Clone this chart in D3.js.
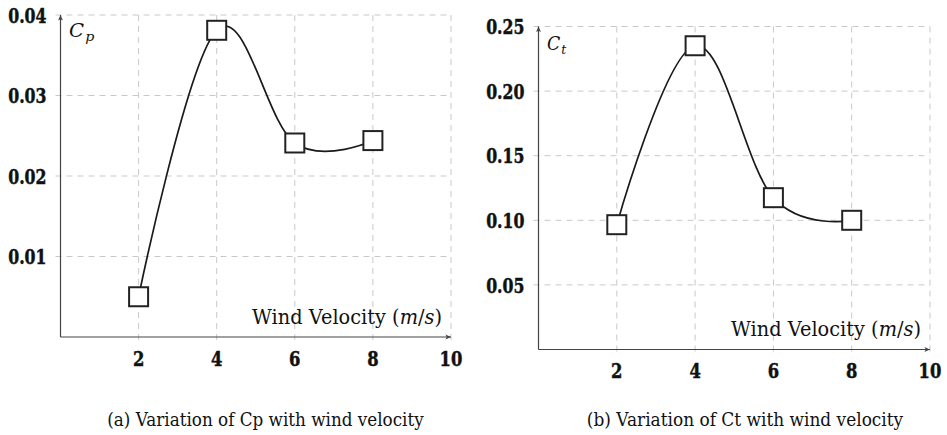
<!DOCTYPE html>
<html>
<head>
<meta charset="utf-8">
<script src="https://cdn.jsdelivr.net/npm/d3@7"></script>
<style>
  html, body { margin: 0; padding: 0; background: #fff; }
  svg { display: block; }
</style>
</head>
<body>
<svg id="chart" width="947" height="435"></svg>
<script>
// Wind velocity (m/s) at which the coefficients were measured
const velocity = [2, 4, 6, 8];
// Power coefficient Cp
const cpValues = [0.0050, 0.0381, 0.0241, 0.0244];
// Thrust coefficient Ct
const ctValues = [0.0966, 0.2351, 0.1175, 0.1000];
// Axis ticks
const xTicks = [2, 4, 6, 8, 10];
const cpTicks = [0.01, 0.02, 0.03, 0.04];
const cpTickLabels = ["0.01", "0.02", "0.03", "0.04"];
const ctTicks = [0.05, 0.10, 0.15, 0.20, 0.25];
const ctTickLabels = ["0.05", "0.10", "0.15", "0.20", "0.25"];
const captions = ["(a) Variation of Cp with wind velocity", "(b) Variation of Ct with wind velocity"];

const FONT = "'DejaVu Serif', serif";

const svg = d3.select("#chart")
  .attr("font-family", FONT)
  .style("font-family", FONT);

// Narrow a text horizontally about its anchor point (the serif face is wide).
function squeeze(sel, sx) {
  sel.each(function () {
    const ax = +this.getAttribute("x");
    this.setAttribute("transform",
      `translate(${ax},0) scale(${sx},1) translate(${-ax},0)`);
  });
}
function fitWidth(sel, w) {
  sel.each(function () {
    const bw = this.getBBox().width;
    squeeze(d3.select(this), w / bw);
  });
}

const defs = svg.append("defs");
defs.append("marker")
  .attr("id", "arrow")
  .attr("viewBox", "0 0 10 10")
  .attr("refX", 9).attr("refY", 5)
  .attr("markerWidth", 7).attr("markerHeight", 7)
  .attr("markerUnits", "userSpaceOnUse")
  .attr("orient", "auto")
  .append("path")
  .attr("d", "M1,1.5 L9,5 L1,8.5 L3,5 Z")
  .attr("fill", "#444");

function drawPanel(cfg) {
  const g = svg.append("g");
  const x = d3.scaleLinear().domain([0, 10]).range([cfg.left, cfg.right]);
  const y = d3.scaleLinear().domain([0, cfg.yMax]).range([cfg.bottom, cfg.top]);

  const gridStyle = sel => sel
    .attr("stroke", "#c9c9c9")
    .attr("stroke-width", 1)
    .attr("stroke-dasharray", "6,5")
    .attr("fill", "none");

  // horizontal grid lines with short outer ticks
  g.append("g").selectAll("line").data(cfg.yTicks).join("line")
    .attr("x1", x(0) - 5).attr("x2", x(10))
    .attr("y1", d => y(d)).attr("y2", d => y(d))
    .call(gridStyle);

  // vertical grid lines with short outer ticks
  g.append("g").selectAll("line").data(xTicks).join("line")
    .attr("x1", d => x(d)).attr("x2", d => x(d))
    .attr("y1", y(cfg.yMax)).attr("y2", y(0) + 5)
    .call(gridStyle);

  // axes with arrow heads
  g.append("line")
    .attr("x1", x(0)).attr("x2", x(0))
    .attr("y1", y(0)).attr("y2", y(cfg.yMax))
    .attr("stroke", "#444").attr("stroke-width", 1.2)
    .attr("marker-end", "url(#arrow)");
  g.append("line")
    .attr("x1", x(0)).attr("x2", x(10))
    .attr("y1", y(0)).attr("y2", y(0))
    .attr("stroke", "#444").attr("stroke-width", 1.2)
    .attr("marker-end", "url(#arrow)");

  // tick labels (bold, slightly stroked to keep their weight after narrowing)
  g.append("g").selectAll("text").data(cfg.yTicks).join("text")
    .attr("x", x(0) - 14)
    .attr("y", d => y(d))
    .attr("dy", "0.365em")
    .attr("text-anchor", "end")
    .attr("font-size", 21)
    .attr("font-weight", "bold")
    .attr("fill", "#111")
    .attr("stroke", "#111")
    .attr("stroke-width", 0.5)
    .text((d, i) => cfg.yTickLabels[i])
    .call(squeeze, 0.75);

  g.append("g").selectAll("text").data(xTicks).join("text")
    .attr("x", d => x(d))
    .attr("y", y(0) + 21)
    .attr("dy", "0.365em")
    .attr("text-anchor", "middle")
    .attr("font-size", 21)
    .attr("font-weight", "bold")
    .attr("fill", "#111")
    .attr("stroke", "#111")
    .attr("stroke-width", 0.5)
    .text(d => d)
    .call(squeeze, 0.78);

  // axis titles
  const yl = g.append("text")
    .attr("x", x(0) + 8.5)
    .attr("y", y(cfg.yMax) + cfg.yLabelDy)
    .attr("font-size", 18)
    .attr("font-style", "italic")
    .attr("fill", "#111");
  yl.append("tspan").text("C");
  yl.append("tspan").attr("dy", 4).attr("dx", 1).attr("font-size", 13).text(cfg.sub);
  yl.call(fitWidth, cfg.yLabelWidth);

  const xl = g.append("text")
    .attr("x", x(10) - 9)
    .attr("y", y(0) - 13)
    .attr("text-anchor", "end")
    .attr("font-size", 20.5)
    .attr("fill", "#111");
  xl.append("tspan").text("Wind Velocity (");
  xl.append("tspan").attr("font-style", "italic").text("m");
  xl.append("tspan").text("/");
  xl.append("tspan").attr("font-style", "italic").text("s");
  xl.append("tspan").text(")");
  xl.call(fitWidth, 190);

  // smooth curve through the measurements
  const pts = velocity.map((v, i) => [v, cfg.values[i]]);
  const line = d3.line()
    .x(d => x(d[0])).y(d => y(d[1]))
    .curve(d3.curveCardinal.tension(-0.1));
  g.append("path")
    .datum(pts)
    .attr("d", line)
    .attr("fill", "none")
    .attr("stroke", "#1a1a1a")
    .attr("stroke-width", 1.7);

  // square markers
  const s = 19;
  g.append("g").selectAll("rect").data(pts).join("rect")
    .attr("x", d => x(d[0]) - s / 2)
    .attr("y", d => y(d[1]) - s / 2)
    .attr("width", s).attr("height", s)
    .attr("fill", "#fff")
    .attr("stroke", "#222")
    .attr("stroke-width", 2);

  // caption
  svg.append("text")
    .attr("x", cfg.captionX)
    .attr("y", 426.5)
    .attr("text-anchor", "middle")
    .attr("font-size", 18.3)
    .attr("fill", "#111")
    .text(cfg.caption)
    .call(fitWidth, 317);
}

drawPanel({
  left: 60.5, right: 451, top: 15, bottom: 337,
  yMax: 0.04, yTicks: cpTicks, yTickLabels: cpTickLabels,
  values: cpValues, sub: "p", yLabelDy: 22, yLabelWidth: 26,
  caption: captions[0], captionX: 265.5
});

drawPanel({
  left: 538.5, right: 930, top: 26.5, bottom: 349.5,
  yMax: 0.25, yTicks: ctTicks, yTickLabels: ctTickLabels,
  values: ctValues, sub: "t", yLabelDy: 23.5, yLabelWidth: 20,
  caption: captions[1], captionX: 745
});
</script>
</body>
</html>
